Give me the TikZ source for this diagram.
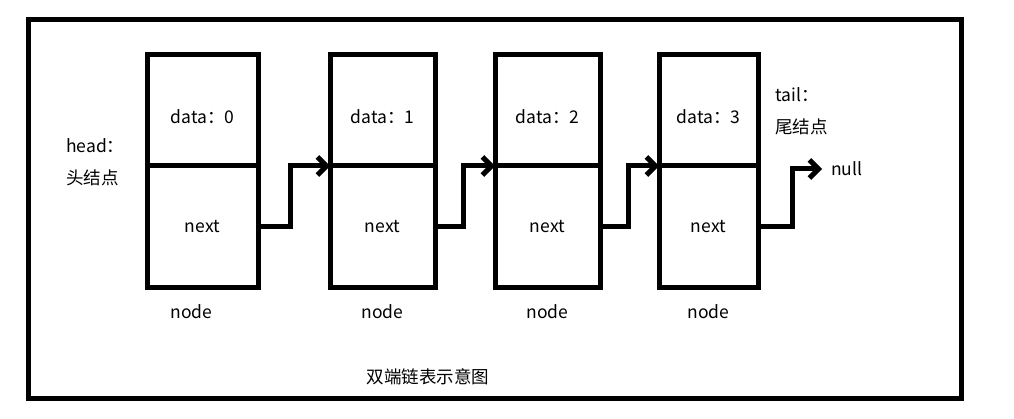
\documentclass[tikz,border=0pt]{standalone}
\usepackage{fontspec}
\setmainfont{Noto Sans CJK SC}
\usetikzlibrary{arrows.meta,positioning}
\tikzset{
  cell/.style = {draw=black, line width=5pt, outer sep=0pt, inner sep=0pt,
    font=\fontsize{17.5}{21}\selectfont},
  datacell/.style = {cell, minimum height=111pt, text height=28pt,
    text depth=2pt},% upper half, the value
  nextcell/.style = {cell, minimum height=121pt},% lower half, the pointer
  link/.style = {line width=5pt, ->},
  lbl/.style = {font=\fontsize{17.5}{32}\selectfont, align=left, inner sep=0pt}
}
\begin{document}
\begin{tikzpicture}[x=1pt, y=1pt, >={Straight Barb[length=9pt,width=18pt]}]
\useasboundingbox (0,0) rectangle (1014,418);
\draw [line width=5pt] (28,20) rectangle (961,398);
% the four nodes of the list
\node [datacell, minimum width=111pt] (d0) at (202.5,307.5) {data：0};
\node [nextcell, minimum width=111pt] (n0) at (202.5,191.5) {next};
\node [datacell, minimum width=105pt] (d1) at (382.5,307.5) {data：1};
\node [nextcell, minimum width=105pt] (n1) at (382.5,191.5) {next};
\node [datacell, minimum width=105pt] (d2) at (547.5,307.5) {data：2};
\node [nextcell, minimum width=105pt] (n2) at (547.5,191.5) {next};
\node [datacell, minimum width=99pt] (d3) at (708.5,307.5) {data：3};
\node [nextcell, minimum width=99pt] (n3) at (708.5,191.5) {next};
\node [lbl, below=17pt of n0, xshift=-11pt] (l0) {node};
\node [lbl, below=17pt of n1] (l1) {node};
\node [lbl, below=17pt of n2] (l2) {node};
\node [lbl, below=17pt of n3] (l3) {node};
% head and tail
\node [lbl, anchor=west] (head) at (66,256) {head：\\头结点};
\node [lbl, anchor=west] (tail) at (775,306.5) {tail：\\尾结点};
\node [lbl, anchor=west] (null) at (831,249) {null};
% next pointers
\draw [link] (n0.east) -- ++(32,0) |- (d1.south west);
\draw [link] (n1.east) -- ++(28,0) |- (d2.south west);
\draw [link] (n2.east) -- ++(28,0) |- (d3.south west);
\draw [link] (n3.east) -- ++(34,0) |- ([xshift=-9pt]null.west);
\node [lbl] (title) at (428,41) {双端链表示意图};
\end{tikzpicture}
\end{document}
